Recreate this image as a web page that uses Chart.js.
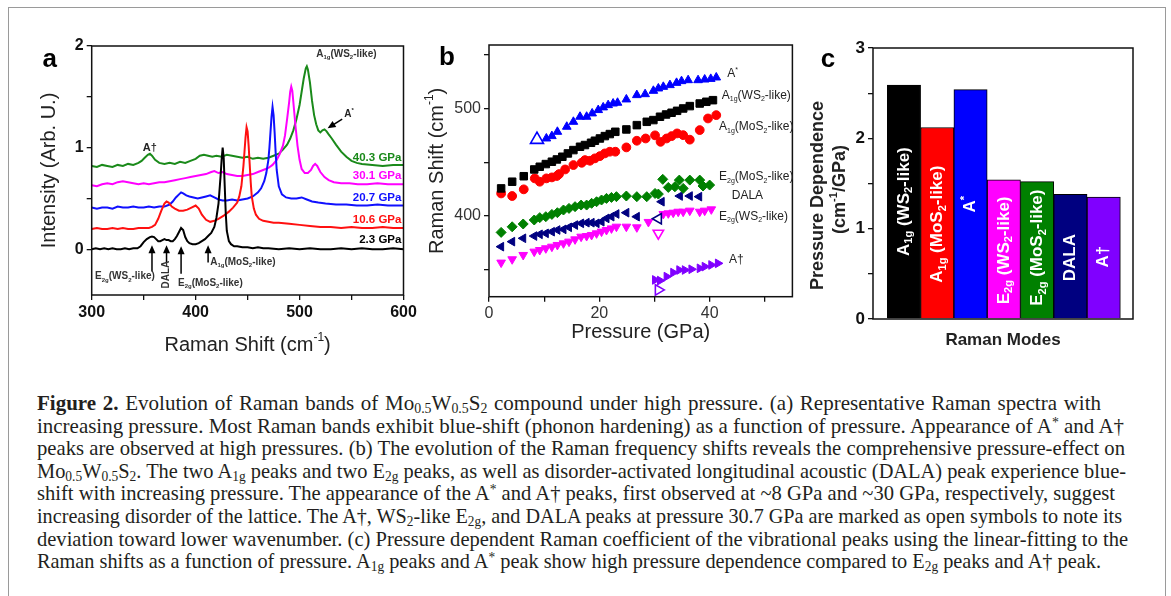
<!DOCTYPE html>
<html>
<head>
<meta charset="utf-8">
<script src="https://cdn.jsdelivr.net/npm/chart.js@4.4.1/dist/chart.umd.min.js"></script>
<style>
  body { margin: 0; background: #fff; width: 1171px; height: 596px; overflow: hidden; position: relative; }
  canvas { position: absolute; }
  #frame { position: absolute; left: 8px; top: 7px; width: 1156px; height: 640px; border: 1.5px solid #9a9a9a; }
  .ln { position: absolute; left: 37px; white-space: nowrap; display: inline-block; transform-origin: 0 0;
        font-family: "Liberation Serif", "Times New Roman", serif; font-size: 21px; line-height: 23px; color: #231f20; }
  .ln sub { font-size: 0.66em; vertical-align: -0.25em; line-height: 0; }
  .ln sup { font-size: 0.66em; vertical-align: 0.45em; line-height: 0; }
</style>
</head>
<body>
<div id="frame"></div>
<canvas id="cA" width="415" height="350" style="left:20px;top:20px"></canvas>
<canvas id="cB" width="385" height="345" style="left:420px;top:20px"></canvas>
<canvas id="cC" width="360" height="350" style="left:800px;top:20px"></canvas>

<div class="ln" data-w="1064"><b>Figure 2.</b> Evolution of Raman bands of Mo<sub>0.5</sub>W<sub>0.5</sub>S<sub>2</sub> compound under high pressure. (a) Representative Raman spectra with</div>
<div class="ln" data-w="1087">increasing pressure. Most Raman bands exhibit blue-shift (phonon hardening) as a function of pressure. Appearance of A<sup>*</sup> and A†</div>
<div class="ln" data-w="1088">peaks are observed at high pressures. (b) The evolution of the Raman frequency shifts reveals the comprehensive pressure-effect on</div>
<div class="ln" data-w="1089">Mo<sub>0.5</sub>W<sub>0.5</sub>S<sub>2</sub>. The two A<sub>1g</sub> peaks and two E<sub>2g</sub> peaks, as well as disorder-activated longitudinal acoustic (DALA) peak experience blue-</div>
<div class="ln" data-w="1078">shift with increasing pressure. The appearance of the A<sup>*</sup> and A† peaks, first observed at ~8 GPa and ~30 GPa, respectively, suggest</div>
<div class="ln" data-w="1085">increasing disorder of the lattice. The A†, WS<sub>2</sub>-like E<sub>2g</sub>, and DALA peaks at pressure 30.7 GPa are marked as open symbols to note its</div>
<div class="ln" data-w="1091">deviation toward lower wavenumber. (c) Pressure dependent Raman coefficient of the vibrational peaks using the linear-fitting to the</div>
<div class="ln" data-w="1064">Raman shifts as a function of pressure. A<sub>1g</sub> peaks and A<sup>*</sup> peak show high pressure dependence compared to E<sub>2g</sub> peaks and A† peak.</div>

<script>
// ---- (a) Raman spectra, offset stacked ----
const shift23 = [300,304,308,312,316,320,324,328,332,336,340,344,347,350,353,356,358,360,362,364,366,368,370,372,374,376,378,380,382,384,386,388,390,392,394,397,400,403,406,409,412,415,418,420,422,424,425,426,427,428,429,430,432,434,437,440,445,450,455,460,465,470,480,490,500,510,520,530,540,550,560,570,580,590,600];
const int23 = [0.00,0.01,0.00,0.01,0.00,0.01,0.00,0.00,0.01,0.00,0.01,0.01,0.03,0.07,0.10,0.12,0.125,0.12,0.10,0.08,0.08,0.09,0.10,0.09,0.09,0.08,0.08,0.10,0.13,0.17,0.21,0.19,0.12,0.08,0.06,0.05,0.05,0.06,0.08,0.10,0.13,0.16,0.22,0.31,0.45,0.72,0.88,1.00,0.90,0.62,0.35,0.18,0.08,0.05,0.03,0.03,0.02,0.02,0.01,0.02,0.01,0.01,0.00,0.01,0.00,0.01,0.00,0.00,0.01,0.00,0.01,0.00,0.00,0.01,0.00];

const shift106 = [300,305,310,315,320,325,330,335,340,345,350,355,358,361,364,367,370,372,374,377,380,384,388,392,396,400,403,406,410,414,418,422,427,432,436,440,442,444,446,447,448,449,450,451,452,453,454,456,458,461,465,470,475,480,490,500,510,520,530,540,550,560,570,580,590,600];
const int106 = [0.20,0.21,0.20,0.20,0.21,0.20,0.21,0.20,0.20,0.21,0.21,0.21,0.22,0.24,0.30,0.38,0.45,0.47,0.46,0.42,0.40,0.38,0.38,0.39,0.41,0.43,0.40,0.34,0.29,0.27,0.28,0.30,0.33,0.37,0.41,0.46,0.52,0.62,0.82,0.96,1.10,1.20,1.16,1.02,0.84,0.66,0.52,0.40,0.34,0.30,0.28,0.27,0.26,0.26,0.25,0.24,0.23,0.22,0.22,0.21,0.22,0.21,0.21,0.22,0.21,0.21];

const shift207 = [300,305,310,315,320,325,330,335,340,345,350,355,360,365,370,375,378,381,384,386,388,391,394,398,402,406,410,414,418,422,426,430,435,440,445,450,455,460,463,466,468,470,471,472,473,474,475,476,477,478,480,483,487,492,497,502,507,512,518,525,535,545,555,565,575,585,600];
const int207 = [0.41,0.40,0.41,0.41,0.40,0.42,0.41,0.41,0.42,0.41,0.41,0.42,0.41,0.42,0.42,0.44,0.47,0.51,0.54,0.56,0.55,0.53,0.52,0.51,0.50,0.51,0.52,0.53,0.51,0.49,0.48,0.48,0.49,0.48,0.49,0.50,0.52,0.56,0.60,0.67,0.75,0.88,1.00,1.15,1.30,1.40,1.32,1.15,0.95,0.78,0.62,0.54,0.51,0.50,0.50,0.51,0.49,0.47,0.46,0.45,0.44,0.44,0.43,0.43,0.44,0.43,0.43];

const shift301 = [300,305,310,315,320,325,330,335,340,345,350,355,360,365,370,375,380,385,390,395,400,405,410,415,418,422,426,430,435,440,445,450,455,460,465,470,474,478,481,484,486,488,490,491,492,493,494,496,498,500,502,505,508,511,513,515,517,520,524,528,533,540,548,556,565,575,585,600];
const int301 = [0.63,0.62,0.64,0.65,0.64,0.66,0.67,0.66,0.65,0.64,0.65,0.64,0.65,0.66,0.66,0.67,0.68,0.69,0.70,0.71,0.72,0.73,0.74,0.76,0.77,0.75,0.76,0.74,0.73,0.72,0.72,0.73,0.74,0.76,0.78,0.80,0.83,0.88,0.94,1.02,1.12,1.28,1.45,1.55,1.60,1.56,1.45,1.22,1.02,0.88,0.79,0.75,0.75,0.78,0.82,0.84,0.82,0.76,0.71,0.68,0.66,0.65,0.65,0.64,0.64,0.65,0.64,0.64];

const shift403 = [300,305,310,315,320,325,330,335,340,345,348,351,354,356,358,361,365,370,375,380,385,390,395,400,404,408,412,416,420,425,430,435,440,445,450,455,460,465,470,475,480,484,488,491,494,497,500,502,504,506,507,508,510,512,514,516,518,520,522,524,526,528,531,535,540,545,550,555,560,570,580,590,600];
const int403 = [0.82,0.81,0.83,0.82,0.81,0.83,0.82,0.84,0.83,0.85,0.87,0.90,0.93,0.94,0.92,0.88,0.85,0.84,0.85,0.84,0.86,0.85,0.87,0.89,0.92,0.93,0.92,0.91,0.92,0.91,0.93,0.92,0.91,0.90,0.91,0.89,0.90,0.89,0.90,0.92,0.94,0.98,1.03,1.09,1.17,1.28,1.42,1.55,1.68,1.78,1.80,1.77,1.64,1.46,1.32,1.23,1.17,1.15,1.17,1.18,1.16,1.13,1.09,1.03,0.96,0.91,0.87,0.85,0.84,0.83,0.82,0.83,0.83];

const pressureLabels = ['2.3 GPa', '10.6 GPa', '20.7 GPa', '30.1 GPa', '40.3 GPa'];

// ---- (b) peak positions vs pressure ----
const pA1gWS = [2.2,4.2,6.3,8.2,9.2,10.3,11.4,12.3,13.3,14.3,15.3,16.5,17.4,18.5,19.2,20.1,21.0,21.9,22.9,24.9,26.8,28.6,29.8,31.0,32.1,33.1,34.1,35.2,36.4,38.2,39.4,40.6];
const rA1gWS = [425.7,431.9,437,443.3,445.8,448.3,450.5,452.6,455.1,458.2,461.3,464.4,466,468.1,470,472.1,474.3,476.2,478.3,480.5,484.5,487.6,489.2,492.3,494.4,496,497.8,500,502.2,504.6,506.2,507.7];
const pA1gMo = [2.2,4.2,6.3,8.3,9.2,10.4,11.4,12.3,12.7,13.8,15.3,16.8,17.4,18.3,19.2,20.1,21.0,21.9,22.9,24.9,26.8,28.4,30.1,31.1,32.2,33.1,34.1,35.2,36.4,38.2,39.7,41.2];
const rA1gMo = [421,418.6,424.8,435,431.9,435,435.9,437.2,439,443.3,447.4,449.5,452,451.4,453.6,455.7,458.2,459.8,459.8,463.8,470,472.1,475,469,472.1,474.3,476.8,475.2,471,479.9,490.7,493.8];
const pAstar = [10.4,11.4,12.4,14.1,15.3,16.5,17.7,18.7,19.8,20.7,21.6,22.5,23.3,24.9,26.8,28.3,29.8,30.7,31.6,32.8,34.0,34.9,36.1,37.9,39.1,40.2,41.2];
const rAstar = [472.1,474.3,478.3,483,487.6,492.3,492.3,495.4,498.5,501,503.1,504.6,505.3,508.4,512.4,513.3,516.4,518.6,520.1,521.7,523.8,525.4,526.3,526.3,526.9,527.5,528.8];
const pE2gMo = [2.2,4.2,6.2,8.2,9.2,10.3,11.4,12.4,13.5,14.5,15.6,16.7,17.7,18.6,19.5,20.4,21.3,22.2,23.1,24.9,26.8,28.6,30.1,30.7,31.5,32.5,33.7,34.5,35.2,36.4,38.2,38.8,40.0];
const rE2gMo = [384.8,390,392.6,396.3,398.5,399.4,401.5,403.1,405.6,407.1,408.7,410.2,410.2,411.8,413.3,414.9,416.4,417.3,418,418.6,418,418,421,420.4,434.1,426.6,427.2,433.4,425.7,433.4,433.4,427.9,428.8];
const pDALA = [2.2,4.2,6.2,8.2,9.2,10.3,11.4,12.4,13.5,14.5,15.6,16.7,17.7,18.6,19.5,20.4,21.3,22.2,23.1,24.9,26.8,31.3,34.6,36.4,38.1];
const rDALA = [371.5,376.2,379.3,381.4,383,383.9,385.4,387,387.6,389.5,391.6,393.2,393.8,393.8,393.2,394.7,397.8,399.4,401.9,403.1,399.4,413.3,418.6,418.6,418];
const pE2gWS = [2.2,4.2,6.2,8.2,9.2,10.3,11.4,12.4,13.5,14.5,15.6,16.7,17.7,18.6,19.5,20.4,21.3,22.2,23.1,24.9,26.8,28.9,31.6,32.5,33.4,34.3,35.2,36.4,38.2,39.1,40.3];
const rE2gWS = [356.7,359.8,363.8,366.9,368.4,370,371.5,373.1,374.6,376.2,378.3,380.8,381.4,382.4,383.9,385.5,387,388.5,390.1,390.1,389.5,394.5,401.9,402.5,403.1,404,404,405,404,405,406.2];
const pAdag = [30.1,31.0,32.2,33.4,34.5,35.5,36.7,38.2,39.1,40.3,41.5];
const rAdag = [340.6,340,343.7,347.4,349.8,349.8,350.5,351.4,353,354.5,356];
// open symbols (deviating points)
const pAstarOpen = [8.7], rAstarOpen = [471];
const pDALAOpen = [30.7], rDALAOpen = [397.5];
const pE2gWSOpen = [30.7], rE2gWSOpen = [384];
const pAdagOpen = [30.7], rAdagOpen = [331.3];

// ---- (c) pressure coefficients ----
const modeNames = ['A_{1g} (WS_{2}-like)', 'A_{1g} (MoS_{2}-like)', 'A^{*}', 'E_{2g} (WS_{2}-like)', 'E_{2g} (MoS_{2}-like)', 'DALA', 'A†'];
const modeSlopes = [2.59, 2.12, 2.54, 1.54, 1.52, 1.38, 1.35];

const FAM = '"Liberation Sans", Arial, Helvetica, sans-serif';
const GREEN = '#008000', NAVY = '#000080', PURPLE = '#8000ff';

// text with _{sub} and ^{sup} pieces
function parseRich(s) {
    const out = [];
    const re = /([_^])\{([^}]*)\}|([^_^]+)/g;
    let m;
    while ((m = re.exec(s))) {
        if (m[3]) out.push({ t: m[3], k: '' });
        else out.push({ t: m[2], k: m[1] });
    }
    return out;
}
function rich(ctx, s, x, y, o = {}) {
    const size = o.size || 12, weight = o.weight || 'normal';
    const segs = parseRich(s);
    const fontFor = k => `${weight} ${k ? Math.round(size * 0.62) : size}px ${FAM}`;
    let total = 0;
    segs.forEach(sg => { ctx.font = fontFor(sg.k); sg.w = ctx.measureText(sg.t).width; total += sg.w; });
    ctx.save();
    ctx.translate(x, y);
    if (o.rotate) ctx.rotate(o.rotate);
    let cx = o.align === 'center' ? -total / 2 : o.align === 'right' ? -total : 0;
    ctx.fillStyle = o.color || '#000';
    ctx.textBaseline = 'middle';
    ctx.textAlign = 'left';
    segs.forEach(sg => {
        ctx.font = fontFor(sg.k);
        const dy = sg.k === '_' ? size * 0.32 : sg.k === '^' ? -size * 0.35 : 0;
        ctx.fillText(sg.t, cx, dy);
        cx += sg.w;
    });
    ctx.restore();
}
function arrow(ctx, x1, y1, x2, y2, color) {
    const a = Math.atan2(y2 - y1, x2 - x1), L = 8, W = 3.5;
    ctx.save();
    ctx.strokeStyle = ctx.fillStyle = color || '#000';
    ctx.lineWidth = 1.5;
    ctx.beginPath();
    ctx.moveTo(x1, y1);
    ctx.lineTo(x2 - Math.cos(a) * L * 0.8, y2 - Math.sin(a) * L * 0.8);
    ctx.stroke();
    ctx.beginPath();
    ctx.moveTo(x2, y2);
    ctx.lineTo(x2 - Math.cos(a) * L - Math.sin(a) * W, y2 - Math.sin(a) * L + Math.cos(a) * W);
    ctx.lineTo(x2 - Math.cos(a) * L + Math.sin(a) * W, y2 - Math.sin(a) * L - Math.cos(a) * W);
    ctx.closePath();
    ctx.fill();
    ctx.restore();
}
function frame(chart) {
    const a = chart.chartArea, ctx = chart.ctx;
    ctx.save();
    ctx.strokeStyle = '#111';
    ctx.lineWidth = 1.5;
    ctx.strokeRect(a.left, a.top, a.right - a.left, a.bottom - a.top);
    ctx.restore();
}
function fixedTicks(list) {
    return scale => { scale.ticks = list.map(v => ({ value: v })); };
}
function axisGrid() {
    return { drawOnChartArea: false, drawTicks: true, tickLength: 5, color: '#111', lineWidth: 1.3 };
}
// move chart area to an exact place inside its canvas
function fitArea(chart, t) {
    for (let k = 0; k < 3; k++) {
        const a = chart.chartArea, p = chart.options.layout.padding;
        chart.options.layout.padding = {
            left: p.left + t.left - a.left,
            top: p.top + t.top - a.top,
            right: p.right + a.right - t.right,
            bottom: p.bottom + a.bottom - t.bottom
        };
        chart.update('none');
    }
}

// ---------- chart a ----------
const spectra = [
    { x: shift23, y: int23, color: '#000000' },
    { x: shift106, y: int106, color: '#ff1010' },
    { x: shift207, y: int207, color: '#1010ff' },
    { x: shift301, y: int301, color: '#ff00ff' },
    { x: shift403, y: int403, color: '#1a8a1a' }
];
const decoA = {
    id: 'decoA',
    afterDraw(chart) {
        const ctx = chart.ctx, a = chart.chartArea;
        const px = v => chart.scales.x.getPixelForValue(v), py = v => chart.scales.y.getPixelForValue(v);
        frame(chart);
        rich(ctx, 'a', a.left - 42, a.top + 14, { size: 26, weight: 'bold', align: 'center' });
        rich(ctx, 'Intensity (Arb. U.)', a.left - 42, (a.top + a.bottom) / 2, { size: 20, align: 'center', rotate: -Math.PI / 2, color: '#222' });
        rich(ctx, 'Raman Shift (cm^{-1})', (a.left + a.right) / 2, a.bottom + 50, { size: 20, align: 'center', color: '#222' });
        // pressure labels
        const labelY = [0.09, 0.29, 0.51, 0.72, 0.90];
        pressureLabels.forEach((t, i) => rich(ctx, t, px(598), py(labelY[i]), { size: 11.5, weight: 'bold', align: 'right', color: spectra[i].color }));
        rich(ctx, 'A†', px(356), py(1.0), { size: 11, weight: 'bold', align: 'center', color: '#222' });
        rich(ctx, 'A_{1g}(WS_{2}-like)', px(516), py(1.92), { size: 10, weight: 'bold', color: '#333' });
        rich(ctx, 'A^{*}', px(543), py(1.33), { size: 10, weight: 'bold', color: '#222' });
        arrow(ctx, px(541), py(1.28), px(527), py(1.19));
        // mode arrows below the 2.3 GPa spectrum
        arrow(ctx, px(358), py(-0.22), px(358), py(0.04));
        arrow(ctx, px(372), py(-0.13), px(372), py(0.04));
        arrow(ctx, px(386), py(-0.24), px(386), py(0.03));
        arrow(ctx, px(412), py(-0.13), px(412), py(0.04));
        rich(ctx, 'E_{2g}(WS_{2}-like)', px(332), py(-0.27), { size: 10, weight: 'bold', align: 'center', color: '#333' });
        rich(ctx, 'DALA', px(372), py(-0.25), { size: 10, weight: 'bold', align: 'center', rotate: -Math.PI / 2, color: '#333' });
        rich(ctx, 'E_{2g}(MoS_{2}-like)', px(383), py(-0.33), { size: 10, weight: 'bold', color: '#333' });
        rich(ctx, 'A_{1g}(MoS_{2}-like)', px(414), py(-0.13), { size: 10, weight: 'bold', color: '#333' });
    }
};
const chartA = new Chart(document.getElementById('cA'), {
    type: 'line',
    data: {
        datasets: spectra.map(s => ({
            data: s.x.map((x, i) => ({ x: x, y: s.y[i] })),
            borderColor: s.color,
            borderWidth: 2,
            pointRadius: 0,
            tension: 0
        }))
    },
    options: {
        animation: false,
        responsive: false,
        layout: { padding: { left: 0, right: 0, top: 0, bottom: 0 } },
        plugins: { legend: { display: false }, tooltip: { enabled: false } },
        scales: {
            x: {
                type: 'linear', min: 300, max: 600,
                afterBuildTicks: fixedTicks([300, 350, 400, 450, 500, 550, 600]),
                ticks: { callback: v => (v % 100 === 0 ? v : ''), font: { family: FAM, size: 16, weight: 'bold' }, color: '#111', padding: 3, maxRotation: 0, autoSkip: false },
                grid: axisGrid(), border: { display: false }
            },
            y: {
                min: -0.45, max: 2,
                afterBuildTicks: fixedTicks([0, 0.5, 1, 1.5, 2]),
                ticks: { callback: v => (Number.isInteger(v) ? v : ''), font: { family: FAM, size: 16, weight: 'bold' }, color: '#111', padding: 3, autoSkip: false },
                grid: axisGrid(), border: { display: false }
            }
        }
    },
    plugins: [decoA]
});
fitArea(chartA, { left: 71.7, top: 26, right: 383.5, bottom: 275 });

// ---------- chart b ----------
function pts(xs, ys) { return xs.map((x, i) => ({ x: x, y: ys[i] })); }
const filled = (xs, ys, color, style, rot, r) => ({
    data: pts(xs, ys), pointStyle: style, rotation: rot, pointRadius: r,
    backgroundColor: color, borderColor: color, borderWidth: 1, showLine: false
});
const open = (xs, ys, color, style, rot, r) => ({
    data: pts(xs, ys), pointStyle: style, rotation: rot, pointRadius: r,
    backgroundColor: 'rgba(255,255,255,0)', borderColor: color, borderWidth: 1.6, showLine: false
});
const decoB = {
    id: 'decoB',
    afterDraw(chart) {
        const ctx = chart.ctx, a = chart.chartArea;
        const px = v => chart.scales.x.getPixelForValue(v), py = v => chart.scales.y.getPixelForValue(v);
        frame(chart);
        rich(ctx, 'b', a.left - 42, a.top + 13, { size: 26, weight: 'bold', align: 'center' });
        rich(ctx, 'Raman Shift (cm^{-1})', a.left - 52, (a.top + a.bottom) / 2, { size: 20, align: 'center', rotate: -Math.PI / 2, color: '#222' });
        rich(ctx, 'Pressure (GPa)', (a.left + a.right) / 2, a.bottom + 36, { size: 20, align: 'center', color: '#222' });
        const o = { size: 12, color: '#222' };
        rich(ctx, 'A^{*}', px(43.2), py(532), o);
        rich(ctx, 'A_{1g}(WS_{2}-like)', px(42.2), py(512), o);
        rich(ctx, 'A_{1g}(MoS_{2}-like)', px(41.7), py(483), o);
        rich(ctx, 'E_{2g}(MoS_{2}-like)', px(41.7), py(436.5), o);
        rich(ctx, 'DALA', px(44.0), py(418.8), o);
        rich(ctx, 'E_{2g}(WS_{2}-like)', px(41.7), py(399.5), o);
        rich(ctx, 'A†', px(43.5), py(359), o);
    }
};
const chartB = new Chart(document.getElementById('cB'), {
    type: 'scatter',
    data: {
        datasets: [
            filled(pA1gWS, rA1gWS, '#000000', 'rect', 0, 5.3),
            filled(pA1gMo, rA1gMo, '#ff0000', 'circle', 0, 4.4),
            filled(pAstar, rAstar, '#0000ff', 'triangle', 0, 5),
            open(pAstarOpen, rAstarOpen, '#0000ff', 'triangle', 0, 7.5),
            filled(pE2gMo, rE2gMo, GREEN, 'rectRot', 0, 5),
            filled(pDALA, rDALA, NAVY, 'triangle', 270, 5),
            open(pDALAOpen, rDALAOpen, NAVY, 'triangle', 270, 6),
            filled(pE2gWS, rE2gWS, '#ff00ff', 'triangle', 180, 5),
            open(pE2gWSOpen, rE2gWSOpen, '#ff00ff', 'triangle', 180, 6),
            filled(pAdag, rAdag, PURPLE, 'triangle', 90, 5),
            open(pAdagOpen, rAdagOpen, PURPLE, 'triangle', 90, 6)
        ]
    },
    options: {
        animation: false,
        responsive: false,
        layout: { padding: { left: 0, right: 0, top: 0, bottom: 0 } },
        plugins: { legend: { display: false }, tooltip: { enabled: false } },
        scales: {
            x: {
                type: 'linear', min: 0, max: 55,
                afterBuildTicks: fixedTicks([0, 10, 20, 30, 40, 50]),
                ticks: { callback: v => (v % 20 === 0 ? v : ''), font: { family: FAM, size: 16 }, color: '#333', padding: 2, maxRotation: 0, autoSkip: false },
                grid: axisGrid(), border: { display: false }
            },
            y: {
                min: 325, max: 559,
                afterBuildTicks: fixedTicks([350, 400, 450, 500, 550]),
                ticks: { callback: v => (v % 100 === 0 ? v : ''), font: { family: FAM, size: 16 }, color: '#333', padding: 3, autoSkip: false },
                grid: axisGrid(), border: { display: false }
            }
        }
    },
    plugins: [decoB]
});
fitArea(chartB, { left: 69, top: 25, right: 371.7, bottom: 276.7 });

// ---------- chart c ----------
const barColors = ['#000000', '#ff0000', '#0000ff', '#ff00ff', GREEN, NAVY, PURPLE];
const decoC = {
    id: 'decoC',
    afterDraw(chart) {
        const ctx = chart.ctx, a = chart.chartArea;
        const py = v => chart.scales.y.getPixelForValue(v);
        frame(chart);
        rich(ctx, 'c', a.left - 45, a.top + 12, { size: 26, weight: 'bold', align: 'center' });
        rich(ctx, 'Pressure Dependence', a.left - 55, (a.top + a.bottom) / 2 + 12, { size: 18, weight: 'bold', align: 'center', rotate: -Math.PI / 2, color: '#222' });
        rich(ctx, '(cm^{-1}/GPa)', a.left - 33, (a.top + a.bottom) / 2 + 6, { size: 18, weight: 'bold', align: 'center', rotate: -Math.PI / 2, color: '#222' });
        rich(ctx, 'Raman Modes', (a.left + a.right) / 2, a.bottom + 21, { size: 17, weight: 'bold', align: 'center', color: '#222' });
        const centre = [1.30, 1.05, 1.27, 0.76, 0.79, 0.68, 0.69];
        chart.getDatasetMeta(0).data.forEach((bar, i) => {
            rich(ctx, modeNames[i], bar.x, py(centre[i]), { size: 17, weight: 'bold', align: 'center', rotate: -Math.PI / 2, color: '#fff' });
        });
    }
};
const chartC = new Chart(document.getElementById('cC'), {
    type: 'bar',
    data: {
        datasets: [{
            data: modeSlopes.map((v, i) => ({ x: i, y: v })),
            backgroundColor: barColors,
            borderColor: '#000',
            borderWidth: 1,
            barPercentage: 1,
            categoryPercentage: 1
        }]
    },
    options: {
        animation: false,
        responsive: false,
        layout: { padding: { left: 0, right: 0, top: 0, bottom: 0 } },
        plugins: { legend: { display: false }, tooltip: { enabled: false } },
        scales: {
            x: { type: 'linear', min: -0.93, max: 6.88, offset: false, display: false },
            y: {
                min: 0, max: 3,
                afterBuildTicks: fixedTicks([0, 0.5, 1, 1.5, 2, 2.5, 3]),
                ticks: { callback: v => (Number.isInteger(v) ? v : ''), font: { family: FAM, size: 17, weight: 'bold' }, color: '#111', padding: 3, autoSkip: false },
                grid: axisGrid(), border: { display: false }
            }
        }
    },
    plugins: [decoC]
});
fitArea(chartC, { left: 73, top: 28, right: 333, bottom: 299 });

// ---------- caption lines ----------
document.querySelectorAll('.ln').forEach((el, i) => {
    el.style.top = (392 + i * 22.6) + 'px';
    const target = +el.dataset.w;
    const w = el.getBoundingClientRect().width;
    const spaces = (el.textContent.match(/ /g) || []).length;
    if (w < target) el.style.wordSpacing = ((target - w) / spaces) + 'px';
    else el.style.transform = 'scaleX(' + (target / w) + ')';
});
</script>
</body>
</html>
